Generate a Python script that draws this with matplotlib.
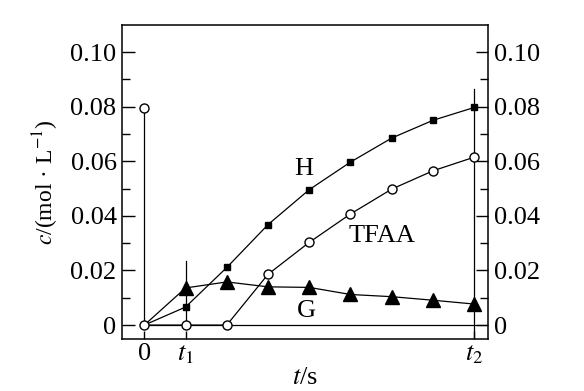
import numpy as np
import matplotlib
matplotlib.use('Agg')
import matplotlib.pyplot as plt

plt.rcParams['font.family'] = ['Liberation Serif', 'DejaVu Serif']
plt.rcParams['mathtext.fontset'] = 'stix'

# time index (0 ... t2), equal spacing
t = [0, 1, 2, 3, 4, 5, 6, 7, 8]
H = [0, 0.0066, 0.0211, 0.0368, 0.0496, 0.0597, 0.0685, 0.0750, 0.0797]
TFAA = [0, 0, 0, 0.0186, 0.0303, 0.0407, 0.0498, 0.0565, 0.0615]
G = [0, 0.0136, 0.0158, 0.0140, 0.0138, 0.0112, 0.0104, 0.0091, 0.0077]
tfaa_start = 0.0795

yticks = [0, 0.02, 0.04, 0.06, 0.08, 0.10]
yticklabels = ['0', '0.02', '0.04', '0.06', '0.08', '0.10']
xticks = [0, 1, 8]
xticklabels = ['0', '$t_1$', '$t_2$']

fs = 19
fig = plt.figure(figsize=(5.84, 3.91), dpi=100)
ax = fig.add_axes([0.209, 0.133, 0.627, 0.803])

lw = 0.9
# baseline and vertical markers
ax.plot([0, 8.4], [0, 0], color='k', lw=lw)
ax.plot([0, 0], [0, tfaa_start], color='k', lw=lw)
ax.plot([1, 1], [0, 0.0233], color='k', lw=lw)
ax.plot([8, 8], [-0.006, 0.0866], color='k', lw=lw)

ax.plot(t, G, color='k', lw=lw, marker='^', ms=10, mfc='k', mec='k',
        markevery=list(range(1, 9)))
ax.plot(t, H, color='k', lw=lw, marker='s', ms=5, mfc='k', mec='k',
        markevery=list(range(1, 9)))
ax.plot(t, TFAA, color='k', lw=lw, marker='o', ms=6.5, mfc='white', mec='k', mew=1)
ax.plot([0], [tfaa_start], marker='o', ms=6.5, mfc='white', mec='k', mew=1, ls='none')

ax.text(3.86, 0.057, 'H', fontsize=fs, ha='center', va='center')
ax.text(5.76, 0.0325, 'TFAA', fontsize=fs, ha='center', va='center')
ax.text(3.92, 0.005, 'G', fontsize=fs, ha='center', va='center')

ax.set_xlim(-0.54, 8.34)
ax.set_ylim(-0.0051, 0.1099)

ax.set_yticks(yticks)
ax.set_yticklabels(yticklabels)
ax.set_yticks([0.01, 0.03, 0.05, 0.07, 0.09], minor=True)
ax.set_xticks(xticks)
ax.set_xticklabels(xticklabels)

ax.tick_params(axis='y', which='major', direction='in', length=9, width=1,
               left=True, right=True, labelleft=True, labelright=True,
               labelsize=fs, pad=4)
ax.tick_params(axis='y', which='minor', direction='in', length=6, width=1,
               left=True, right=True)
ax.tick_params(axis='x', which='major', direction='in', length=6, width=1,
               labelsize=fs, pad=3)
for s in ax.spines.values():
    s.set_linewidth(1.1)

ax.set_xlabel('$t$/s', fontsize=fs, labelpad=1)
ax.set_ylabel('$c$/(mol · L$^{-1}$)', fontsize=17, labelpad=7)

fig.savefig('out.png', dpi=100)
